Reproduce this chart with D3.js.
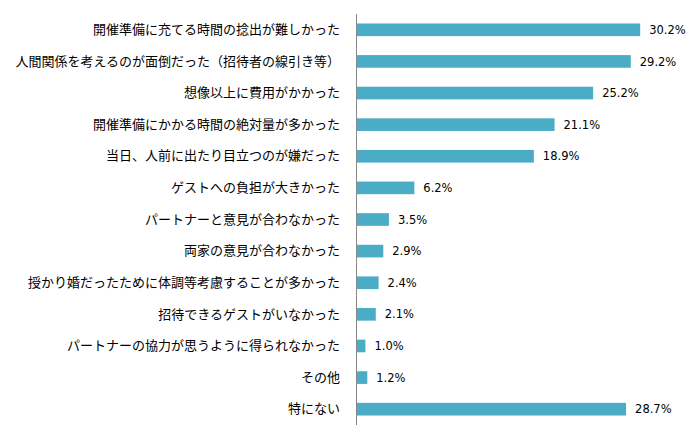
<!DOCTYPE html>
<html>
<head>
<meta charset="utf-8">
<script src="https://cdn.jsdelivr.net/npm/d3@7"></script>
<style>
  body { margin: 0; background: #fff; }
  .cat { font-family: "Noto Sans CJK JP", sans-serif; font-size: 13px; fill: #000; }
  .val { font-family: "DejaVu Sans", Verdana, sans-serif; font-size: 11.5px; fill: #000; }
</style>
</head>
<body>
<svg id="chart"></svg>
<script>
const categories = [
  "開催準備に充てる時間の捻出が難しかった",
  "人間関係を考えるのが面倒だった（招待者の線引き等）",
  "想像以上に費用がかかった",
  "開催準備にかかる時間の絶対量が多かった",
  "当日、人前に出たり目立つのが嫌だった",
  "ゲストへの負担が大きかった",
  "パートナーと意見が合わなかった",
  "両家の意見が合わなかった",
  "授かり婚だったために体調等考慮することが多かった",
  "招待できるゲストがいなかった",
  "パートナーの協力が思うように得られなかった",
  "その他",
  "特にない"
];
const values = [30.2, 29.2, 25.2, 21.1, 18.9, 6.2, 3.5, 2.9, 2.4, 2.1, 1.0, 1.2, 28.7];

const width = 700, height = 441;
const margin = { top: 14, right: 60, bottom: 16, left: 356 };

const svg = d3.select("#chart")
  .attr("width", width)
  .attr("height", height);

// scales
const x = d3.scaleLinear()
  .domain([0, 35])
  .range([margin.left, margin.left + 35 * 9.41]);

const y = d3.scaleBand()
  .domain(categories)
  .range([margin.top, height - margin.bottom])
  .paddingInner(0.6)
  .paddingOuter(0.3);

// bars
svg.selectAll(".bar")
  .data(values)
  .enter().append("rect")
  .attr("class", "bar")
  .attr("x", x(0))
  .attr("y", (d, i) => y(categories[i]))
  .attr("width", d => x(d) - x(0))
  .attr("height", y.bandwidth())
  .attr("fill", "#4BACC6");

// value labels
svg.selectAll(".val")
  .data(values)
  .enter().append("text")
  .attr("class", "val")
  .attr("x", d => x(d) + 9)
  .attr("y", (d, i) => y(categories[i]) + y.bandwidth() / 2)
  .attr("dy", "0.36em")
  .text(d => d.toFixed(1) + "%");

// category axis
const axis = svg.append("g")
  .attr("transform", `translate(${margin.left},0)`)
  .call(d3.axisLeft(y).tickSize(0).tickPadding(16));

axis.select(".domain")
  .attr("stroke", "#898989")
  .attr("d", `M0.5,${margin.top}V${height - margin.bottom}`);

axis.selectAll("text")
  .attr("class", "cat")
  .attr("font-family", null)
  .attr("font-size", null);
</script>
</body>
</html>
